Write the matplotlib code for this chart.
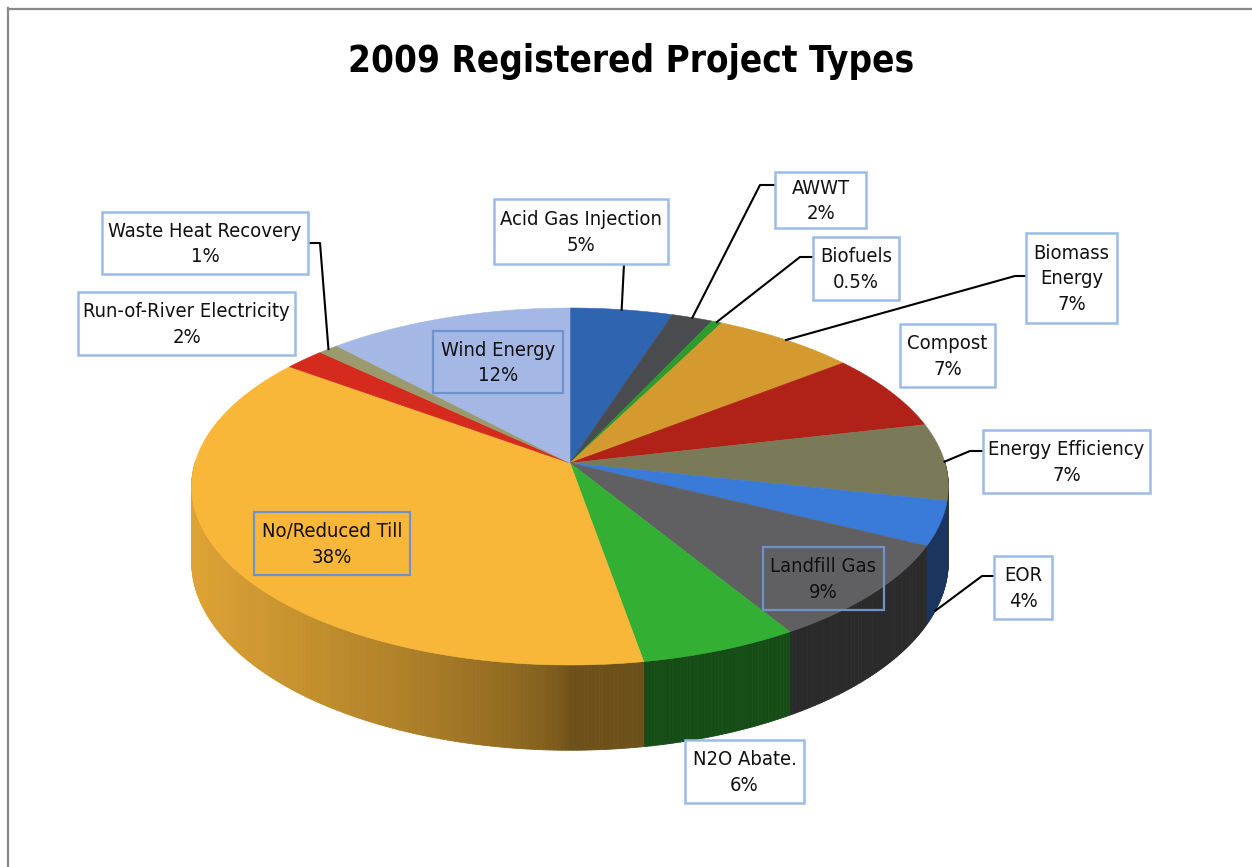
import numpy as np
import matplotlib
matplotlib.use("Agg")
import matplotlib.pyplot as plt
from matplotlib.patches import Polygon, Rectangle
from matplotlib.collections import PolyCollection
from matplotlib.lines import Line2D
from matplotlib import font_manager
from matplotlib.font_manager import FontProperties

# ---------------- data ----------------
categories = ['Acid Gas Injection', 'AWWT', 'Biofuels', 'Biomass Energy', 'Compost',
              'Energy Efficiency', 'EOR', 'Landfill Gas', 'N2O Abate.', 'No/Reduced Till',
              'Run-of-River Electricity', 'Waste Heat Recovery', 'Wind Energy']
shares = [5, 2, 0.5, 7, 7, 7, 4, 9, 6, 38, 2, 1, 12]
pct_labels = ['5%', '2%', '0.5%', '7%', '7%', '7%', '4%', '9%', '6%', '38%', '2%', '1%', '12%']
label_names = ['Acid Gas Injection', 'AWWT', 'Biofuels', 'Biomass\nEnergy', 'Compost',
               'Energy Efficiency', 'EOR', 'Landfill Gas', 'N2O Abate.', 'No/Reduced Till',
               'Run-of-River Electricity', 'Waste Heat Recovery', 'Wind Energy']
colors = ['#2E64B0', '#4A4B4F', '#2F9B2F', '#D49A30', '#B02118', '#7A7A58', '#3A7AD8',
          '#606062', '#33B033', '#F9B73A', '#D42B1E', '#9A9A6E', '#A5B8E5']
title = '2009 Registered Project Types'

# ---------------- layout (pixel coordinates) ----------------
W, H = 1252, 867
CX, CY = 570.0, 463.0      # pie apex
RX, RY = 375.0, 175.4      # radii
K = 0.1317                 # perspective
DEPTH = 74.0               # wall thickness

# label boxes: left, top, right, bottom ; inside flag ; leader elbow points ; wall fraction for end
boxes = {
    'Acid Gas Injection': ((494, 199, 668, 264), False, [(624, 264)], 0.0),
    'AWWT': ((775, 172, 866, 228), False, [(775, 185), (760, 185)], 0.0),
    'Biofuels': ((813, 237, 899, 300), False, [(813, 257), (800, 257)], 0.0),
    'Biomass Energy': ((1026, 233, 1117, 323), False, [(1026, 276), (1015, 276)], 0.0),
    'Compost': ((900, 324, 995, 387), False, None, 0.0),
    'Energy Efficiency': ((983, 430, 1150, 493), False, [(983, 451), (970, 451)], 0.0),
    'EOR': ((994, 556, 1052, 619), False, [(994, 576), (982, 576)], 1.0),
    'Landfill Gas': ((763, 547, 884, 610), True, None, 0.0),
    'N2O Abate.': ((685, 740, 804, 803), False, None, 0.0),
    'No/Reduced Till': ((254, 512, 410, 575), True, None, 0.0),
    'Run-of-River Electricity': ((78, 292, 295, 355), False, None, 0.0),
    'Waste Heat Recovery': ((102, 212, 308, 274), False, [(308, 243), (320, 243)], 0.0),
    'Wind Energy': ((433, 331, 563, 393), True, None, 0.0),
}


def pick_font(bold):
    best = None
    for f in font_manager.fontManager.ttflist:
        nm = f.name.lower()
        isb = (f.weight in ('bold', 700, 'heavy') or (isinstance(f.weight, int) and f.weight >= 600))
        cond = ('narrow' in nm or 'condensed' in nm or
                f.stretch in ('condensed', 'semi-condensed', 'extra-condensed', 400))
        if not cond or f.style != 'normal' or isb != bold:
            continue
        score = 0 if 'liberation' in nm else (1 if 'dejavu' in nm else 2)
        if best is None or score < best[0]:
            best = (score, f.fname)
    if best:
        return FontProperties(fname=best[1])
    return FontProperties(family=['Liberation Sans', 'DejaVu Sans'],
                          weight='bold' if bold else 'normal')


fp_reg = pick_font(False)
fp_bold = pick_font(True)


def proj(theta_deg, depth=0.0):
    t = np.radians(theta_deg)
    u, w = np.cos(t), np.sin(t)
    s = 1.0 / (1.0 + K * w)
    return CX + RX * u * s, CY - RY * w * s + depth * s


def shade(theta_deg):
    c = -np.cos(np.radians(theta_deg))
    c = np.clip(c, 0, 1)
    return 0.44 + 0.46 * c ** 0.6


fig = plt.figure(figsize=(W / 100, H / 100), dpi=100)
ax = fig.add_axes([0, 0, 1, 1])
ax.set_xlim(0, W)
ax.set_ylim(H, 0)
ax.axis('off')
renderer = fig.canvas.get_renderer()


def fit_size(text, fp, target_px, ref_size=20.0):
    t = fig.text(0, 0, text, fontproperties=fp, fontsize=ref_size)
    wpx = t.get_window_extent(renderer).width
    t.remove()
    return ref_size * target_px / wpx


def fit_linespacing(fp, size, gap_px):
    # measure the height added by a second line at linespacing 1.0
    t1 = fig.text(0, 0, 'Ag', fontproperties=fp, fontsize=size, linespacing=1.0)
    t2 = fig.text(0, 0, 'Ag\nAg', fontproperties=fp, fontsize=size, linespacing=1.0)
    d = t2.get_window_extent(renderer).height - t1.get_window_extent(renderer).height
    t1.remove(); t2.remove()
    return gap_px / d


lab_size = min(fit_size('Acid Gas Injection', fp_reg, 162), 17.5)
title_size = min(fit_size(title, fp_bold, 567), 36)
lab_linespacing = fit_linespacing(fp_reg, lab_size, 27.0)

total = float(sum(shares))
spans = [360.0 * v / total for v in shares]
starts = []
a = 90.0
for sp in spans:
    starts.append(a)
    a -= sp

# ---------------- walls ----------------
wall_polys, wall_cols, wall_keys = [], [], []
for st, sp, col in zip(starts, spans, colors):
    base = np.array(matplotlib.colors.to_rgb(col))
    n = max(2, int(np.ceil(sp / 0.5)))
    angs = np.linspace(st, st - sp, n + 1)
    for a1, a2 in zip(angs[:-1], angs[1:]):
        am = 0.5 * (a1 + a2)
        if np.sin(np.radians(am)) > 0.01:
            continue
        p1 = proj(a1); p2 = proj(a2)
        q2 = proj(a2, DEPTH); q1 = proj(a1, DEPTH)
        wall_polys.append([p1, p2, q2, q1])
        wall_cols.append(tuple(np.clip(base * shade(am), 0, 1)))
        wall_keys.append(-np.sin(np.radians(am)))
order = np.argsort(wall_keys)
pc = PolyCollection([wall_polys[i] for i in order], facecolors=[wall_cols[i] for i in order],
                    edgecolors=[wall_cols[i] for i in order], linewidths=0.6, zorder=1)
ax.add_collection(pc)

# ---------------- top faces ----------------
for st, sp, col in zip(starts, spans, colors):
    n = max(2, int(np.ceil(sp / 0.5)))
    angs = np.linspace(st, st - sp, n + 1)
    pts = [(CX, CY)] + [proj(aa) for aa in angs]
    ax.add_patch(Polygon(pts, closed=True, facecolor=col, edgecolor=col, linewidth=0.4, zorder=2))

# ---------------- labels ----------------
for name, lab, pct, st, sp in zip(categories, label_names, pct_labels, starts, spans):
    (l, t, r, b), inside, elbow, wallfrac = boxes[name]
    if inside:
        ax.add_patch(Rectangle((l, t), r - l, b - t, facecolor='none', edgecolor='#6D92CC',
                               linewidth=1.6, zorder=4))
    else:
        ax.add_patch(Rectangle((l, t), r - l, b - t, facecolor='white', edgecolor='#9BBBE8',
                               linewidth=1.8, zorder=4))
    ax.text((l + r) / 2, (t + b) / 2 + 1, lab + '\n' + pct, ha='center', va='center',
            fontproperties=fp_reg, fontsize=lab_size, linespacing=lab_linespacing,
            color='#111111', zorder=5)
    if elbow is not None:
        mid = st - sp / 2
        end = proj(mid - 3 * wallfrac, DEPTH * wallfrac * 1.0)
        xs = [p[0] for p in elbow] + [end[0]]
        ys = [p[1] for p in elbow] + [end[1]]
        ax.add_line(Line2D(xs, ys, color='black', linewidth=1.5, zorder=3))

# ---------------- title ----------------
fig.text(631 / W, 1 - 61 / H, title, ha='center', va='center',
         fontproperties=fp_bold, fontsize=title_size)

# frame
fig.add_artist(Line2D([8 / W, 8 / W], [0, 1 - 8 / H], transform=fig.transFigure,
                      color='#888888', linewidth=1.6))
fig.add_artist(Line2D([8 / W, 1], [1 - 8.5 / H, 1 - 8.5 / H], transform=fig.transFigure,
                      color='#888888', linewidth=1.6))

fig.savefig('out.png', dpi=100)
